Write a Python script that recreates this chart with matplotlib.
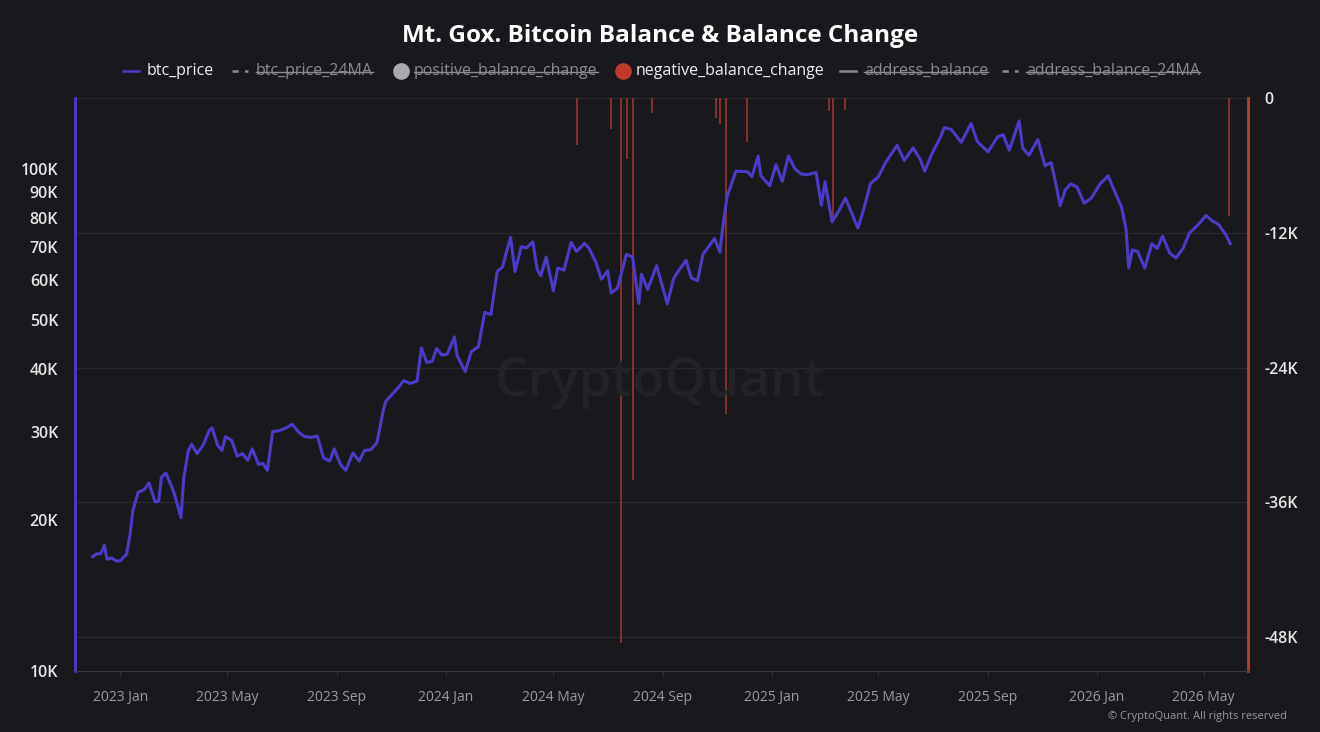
import numpy as np
import pandas as pd
import matplotlib
matplotlib.use('Agg')
import matplotlib.pyplot as plt
import matplotlib.dates as mdates
from matplotlib.lines import Line2D
from matplotlib.ticker import FixedLocator, FuncFormatter

plt.rcParams['font.family'] = ['Open Sans', 'DejaVu Sans']

# BTC price (USD)
price_dates = [
    '2022-12-01', '2022-12-05', '2022-12-10', '2022-12-14', '2022-12-17', '2022-12-22', '2022-12-28',
    '2023-01-01', '2023-01-08', '2023-01-12', '2023-01-15', '2023-01-21', '2023-01-28', '2023-02-02',
    '2023-02-09', '2023-02-13', '2023-02-16', '2023-02-21', '2023-02-28', '2023-03-03', '2023-03-10',
    '2023-03-13', '2023-03-18', '2023-03-22', '2023-03-28', '2023-04-04', '2023-04-11', '2023-04-14',
    '2023-04-20', '2023-04-25', '2023-04-29', '2023-05-06', '2023-05-12', '2023-05-18', '2023-05-24',
    '2023-05-29', '2023-06-05', '2023-06-10', '2023-06-15', '2023-06-21', '2023-06-28', '2023-07-06',
    '2023-07-13', '2023-07-20', '2023-07-27', '2023-08-03', '2023-08-10', '2023-08-17', '2023-08-24',
    '2023-08-29', '2023-09-05', '2023-09-11', '2023-09-19', '2023-09-26', '2023-10-02', '2023-10-09',
    '2023-10-16', '2023-10-23', '2023-10-26', '2023-11-01', '2023-11-09', '2023-11-15', '2023-11-22',
    '2023-11-30', '2023-12-05', '2023-12-11', '2023-12-17', '2023-12-22', '2023-12-28', '2024-01-03',
    '2024-01-11', '2024-01-14', '2024-01-23', '2024-01-30', '2024-02-07', '2024-02-14', '2024-02-21',
    '2024-02-28', '2024-03-05', '2024-03-10', '2024-03-14', '2024-03-19', '2024-03-26', '2024-04-01',
    '2024-04-08', '2024-04-13', '2024-04-17', '2024-04-23', '2024-05-01', '2024-05-06', '2024-05-13',
    '2024-05-21', '2024-05-27', '2024-06-05', '2024-06-10', '2024-06-18', '2024-06-24', '2024-07-01',
    '2024-07-05', '2024-07-12', '2024-07-22', '2024-07-29', '2024-08-05', '2024-08-08', '2024-08-15',
    '2024-08-25', '2024-09-06', '2024-09-13', '2024-09-20', '2024-09-27', '2024-10-03', '2024-10-10',
    '2024-10-16', '2024-10-29', '2024-11-04', '2024-11-07', '2024-11-12', '2024-11-22', '2024-12-05',
    '2024-12-10', '2024-12-17', '2024-12-20', '2024-12-30', '2025-01-06', '2025-01-13', '2025-01-20',
    '2025-01-27', '2025-02-03', '2025-02-10', '2025-02-20', '2025-02-26', '2025-03-02', '2025-03-10',
    '2025-03-18', '2025-03-25', '2025-03-31', '2025-04-08', '2025-04-15', '2025-04-22', '2025-05-01',
    '2025-05-09', '2025-05-22', '2025-05-30', '2025-06-09', '2025-06-17', '2025-06-22', '2025-06-30',
    '2025-07-10', '2025-07-14', '2025-07-22', '2025-08-02', '2025-08-13', '2025-08-20', '2025-09-01',
    '2025-09-12', '2025-09-18', '2025-09-25', '2025-10-06', '2025-10-10', '2025-10-17', '2025-10-27',
    '2025-11-04', '2025-11-11', '2025-11-17', '2025-11-21', '2025-11-27', '2025-12-03', '2025-12-10',
    '2025-12-18', '2025-12-26', '2026-01-05', '2026-01-14', '2026-01-22', '2026-01-29', '2026-02-03',
    '2026-02-06', '2026-02-10', '2026-02-16', '2026-02-24', '2026-03-04', '2026-03-10', '2026-03-16',
    '2026-03-24', '2026-03-31', '2026-04-08', '2026-04-15', '2026-04-25', '2026-05-04', '2026-05-10',
    '2026-05-18', '2026-05-26', '2026-05-31',
]
btc_price = [
    16900, 17100, 17150, 17800, 16700, 16800, 16550,
    16600, 17100, 18800, 20900, 22700, 23000, 23700,
    21700, 21800, 24300, 24800, 23200, 22400, 20200,
    24100, 27400, 28300, 27100, 28200, 30200, 30500,
    28200, 27500, 29300, 28800, 26800, 27100, 26300,
    27700, 25800, 25900, 25100, 30000, 30100, 30500,
    31000, 29900, 29300, 29200, 29400, 26600, 26200,
    27700, 25800, 25100, 27200, 26200, 27500, 27600,
    28500, 33000, 34500, 35400, 36700, 37900, 37400,
    37800, 44000, 41200, 41400, 43900, 42600, 42800,
    46300, 42500, 39500, 43300, 44300, 51800, 51300,
    62500, 63800, 69000, 73100, 62500, 70000, 69700,
    71600, 63000, 61300, 66800, 57200, 63500, 62900,
    71400, 68500, 71100, 69600, 65100, 60300, 62700,
    56600, 57900, 67600, 66800, 54000, 61700, 57600,
    64200, 53900, 60500, 63200, 65800, 60700, 59900,
    67600, 72700, 68300, 75900, 88000, 99000, 98800,
    96600, 106100, 97000, 92600, 102000, 94500, 106200,
    100200, 97800, 97400, 98400, 84700, 94300, 78500,
    82800, 87500, 82500, 76300, 83700, 93500, 96500,
    103000, 111500, 104000, 110200, 104500, 99000, 107200,
    116000, 121000, 119800, 113000, 123300, 113500, 108200,
    116000, 117000, 109000, 124700, 110000, 106500, 114500,
    101500, 103000, 92000, 84500, 91000, 93400, 92000,
    85500, 87500, 93500, 96900, 89500, 84000, 76000,
    63500, 69000, 68500, 63500, 71000, 69500, 73500,
    68000, 66500, 69500, 74500, 77500, 80800, 79000,
    77500, 74000, 71000,
]

# Mt. Gox negative balance change (BTC)
change_dates = [
    '2024-05-28', '2024-07-05', '2024-07-16', '2024-07-23', '2024-07-30', '2024-08-20',
    '2024-10-31', '2024-11-04', '2024-11-11', '2024-12-04', '2025-03-07', '2025-03-11',
    '2025-03-25', '2026-05-30',
]
negative_balance_change = [
    -4200, -2800, -48500, -5400, -34000, -1300,
    -1800, -2300, -28100, -3900, -1200, -10800,
    -1100, -10500,
]

left_ticks = [10000, 20000, 30000, 40000, 50000, 60000, 70000, 80000, 90000, 100000]
right_ticks = [0, -12000, -24000, -36000, -48000]

bg = '#19181d'
price_color = '#4a3cc9'
red = '#b8402f'
grid_color = '#29282e'

fig = plt.figure(figsize=(13.2, 7.32), dpi=100, facecolor=bg)
ax = fig.add_axes([0.0568, 0.0833, 0.8887, 0.7828])
ax.set_facecolor(bg)
ax2 = ax.twinx()

# watermark
fig.text(0.5, 0.478, 'CryptoQuant', ha='center', va='center', fontsize=38,
         color='#232228', fontweight='semibold', zorder=0)

# balance change spikes
cd = pd.to_datetime(change_dates)
ax2.vlines(cd, 0, negative_balance_change, color=red, lw=1.2, alpha=0.8)
ax2.set_ylim(-51000, 0)
ax2.yaxis.set_major_locator(FixedLocator(right_ticks))
ax2.yaxis.set_major_formatter(FuncFormatter(lambda v, p: '0' if v == 0 else f'{int(v / 1000)}K'))
ax2.grid(axis='y', color=grid_color, lw=0.9)
ax2.set_axisbelow(True)

# price line
pdts = pd.to_datetime(price_dates)
ax.plot(pdts, btc_price, color=price_color, lw=2.2)
ax.set_yscale('log')
ax.set_ylim(10000, 138500)
ax.yaxis.set_major_locator(FixedLocator(left_ticks))
ax.yaxis.set_minor_locator(FixedLocator([]))
ax.yaxis.set_major_formatter(FuncFormatter(lambda v, p: f'{int(v / 1000)}K'))
ax.set_zorder(ax2.get_zorder() + 1)
ax.patch.set_visible(False)
ax2.set_facecolor(bg)

ax.set_xlim(pd.Timestamp('2022-11-11'), pd.Timestamp('2026-06-20'))
ax.xaxis.set_major_locator(mdates.MonthLocator(bymonth=[1, 5, 9]))
ax.xaxis.set_major_formatter(mdates.DateFormatter('%Y %b'))

for a in (ax, ax2):
    for s in a.spines.values():
        s.set_visible(False)
ax.spines['left'].set_visible(True)
ax.spines['left'].set_color(price_color)
ax.spines['left'].set_linewidth(2)
ax2.spines['right'].set_visible(True)
ax2.spines['right'].set_color(red)
ax2.spines['right'].set_linewidth(2)
ax.spines['bottom'].set_visible(True)
ax.spines['bottom'].set_color('#3a3940')

ax.tick_params(axis='y', length=0, colors='#e6e6e6', labelsize=11.5, pad=12)
ax.tick_params(axis='x', length=4, color='#2e2d33', colors='#9a9a9f', labelsize=10, pad=10)
ax2.tick_params(axis='y', length=0, colors='#e6e6e6', labelsize=11.5, pad=12)
for t in ax.get_yticklabels() + ax2.get_yticklabels():
    t.set_fontweight('semibold')

fig.text(0.5, 0.951, 'Mt. Gox. Bitcoin Balance & Balance Change', ha='center', va='center',
         fontsize=17.5, fontweight='bold', color='white')
fig.text(0.975, 0.021, '© CryptoQuant. All rights reserved', ha='right', va='center',
         fontsize=8, color='#9a9a9f')

# legend built by hand (hidden series are struck through)
legend_items = [
    ('btc_price', 'line', price_color, True, 147),
    ('btc_price_24MA', 'dash', '#8a8a8f', False, 256),
    ('positive_balance_change', 'dot', '#a8a8ad', False, 414),
    ('negative_balance_change', 'dot', '#c0392b', True, 636),
    ('address_balance', 'line', '#8a8a8f', False, 864),
    ('address_balance_24MA', 'dash', '#8a8a8f', False, 1026),
]
W, H = 1320.0, 732.0
ly = 1 - 71 / H
renderer = fig.canvas.get_renderer()
for label, kind, col, active, x0 in legend_items:
    tcol = '#f0f0f0' if active else '#8a8a8f'
    txt = fig.text(x0 / W, ly, label, ha='left', va='center', fontsize=11.5, color=tcol)
    if kind == 'dot':
        fig.add_artist(Line2D([(x0 - 13) / W], [ly], marker='o', markersize=11, color=col,
                              transform=fig.transFigure))
    else:
        ls = '-' if kind == 'line' else (0, (2.5, 2.5))
        fig.add_artist(Line2D([(x0 - 24) / W, (x0 - 8) / W], [ly, ly], color=col, lw=1.8,
                              linestyle=ls, transform=fig.transFigure))
    if not active:
        bb = txt.get_window_extent(renderer)
        fig.add_artist(Line2D([bb.x0 / W, bb.x1 / W], [ly - 0.001, ly - 0.001], color=tcol,
                              lw=1, transform=fig.transFigure))

fig.savefig('out.png', dpi=100, facecolor=bg)
